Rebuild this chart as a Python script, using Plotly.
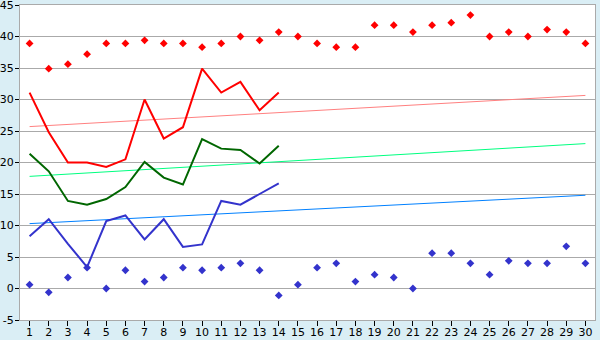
import plotly.graph_objects as go

days = list(range(1, 31))
line_days = list(range(1, 15))

red_markers = [38.9, 34.9, 35.6, 37.2, 38.9, 38.9, 39.4, 38.9, 38.9, 38.3,
               38.9, 40.0, 39.4, 40.7, 40.0, 38.9, 38.3, 38.3, 41.8, 41.8,
               40.7, 41.8, 42.2, 43.4, 40.0, 40.7, 40.0, 41.1, 40.7, 38.9]
blue_markers = [0.6, -0.6, 1.75, 3.3, 0.0, 2.9, 1.1, 1.75, 3.3, 2.9,
                3.3, 4.0, 2.9, -1.1, 0.6, 3.3, 4.0, 1.1, 2.2, 1.75,
                0.0, 5.6, 5.6, 4.0, 2.2, 4.4, 4.0, 4.0, 6.7, 4.0]
red_line = [31.1, 24.8, 20.0, 20.0, 19.3, 20.5, 30.0, 23.8, 25.6, 34.9,
            31.1, 32.8, 28.3, 31.1]
green_line = [21.4, 18.6, 13.9, 13.3, 14.2, 16.1, 20.1, 17.6, 16.5, 23.7,
              22.2, 22.0, 19.85, 22.65]
blue_line = [8.3, 11.0, 7.1, 3.4, 10.7, 11.6, 7.8, 11.0, 6.6, 7.0,
             13.9, 13.3, 15.0, 16.7]
trend_x = [1, 30]
trend_red = [25.7, 30.65]
trend_green = [17.8, 23.0]
trend_blue = [10.3, 14.8]
y_ticks = list(range(-5, 50, 5))

fig = go.Figure()
fig.add_trace(go.Scatter(x=trend_x, y=trend_red, mode="lines",
                         line=dict(color="#ff8080", width=1)))
fig.add_trace(go.Scatter(x=trend_x, y=trend_green, mode="lines",
                         line=dict(color="#00ff80", width=1)))
fig.add_trace(go.Scatter(x=trend_x, y=trend_blue, mode="lines",
                         line=dict(color="#0080ff", width=1)))
fig.add_trace(go.Scatter(x=line_days, y=red_line, mode="lines",
                         line=dict(color="#ff0000", width=2)))
fig.add_trace(go.Scatter(x=line_days, y=green_line, mode="lines",
                         line=dict(color="#006600", width=2)))
fig.add_trace(go.Scatter(x=line_days, y=blue_line, mode="lines",
                         line=dict(color="#3333cc", width=2)))
fig.add_trace(go.Scatter(x=days, y=red_markers, mode="markers",
                         marker=dict(symbol="diamond", size=6, color="#ff0000")))
fig.add_trace(go.Scatter(x=days, y=blue_markers, mode="markers",
                         marker=dict(symbol="diamond", size=6, color="#3333cc")))

fig.update_layout(
    width=600, height=340,
    margin=dict(l=20, r=5, t=5, b=20),
    paper_bgcolor="#daeef5",
    plot_bgcolor="#ffffff",
    showlegend=False,
    font=dict(family="DejaVu Sans", size=11, color="#000000"),
)
fig.update_xaxes(
    range=[0.5, 30.5], tickmode="array", tickvals=days,
    ticktext=[str(d) for d in days],
    showgrid=False, zeroline=False, automargin=False,
    showline=True, linecolor="#aaaaaa", linewidth=1, mirror=True,
    ticks="outside", ticklen=5, tickcolor="#000000",
    ticklabelstandoff=-3, ticklabeloverflow="allow",
)
fig.update_yaxes(
    range=[-5, 45], tickmode="array", tickvals=y_ticks,
    ticktext=[str(v) for v in y_ticks],
    showgrid=True, gridcolor="#aaaaaa", gridwidth=1, zeroline=False,
    automargin=False,
    showline=True, linecolor="#aaaaaa", linewidth=1, mirror=True,
    ticks="outside", ticklen=4, tickcolor="#000000",
    ticklabelstandoff=-1, ticklabeloverflow="allow",
)

fig.write_html("out.html")
